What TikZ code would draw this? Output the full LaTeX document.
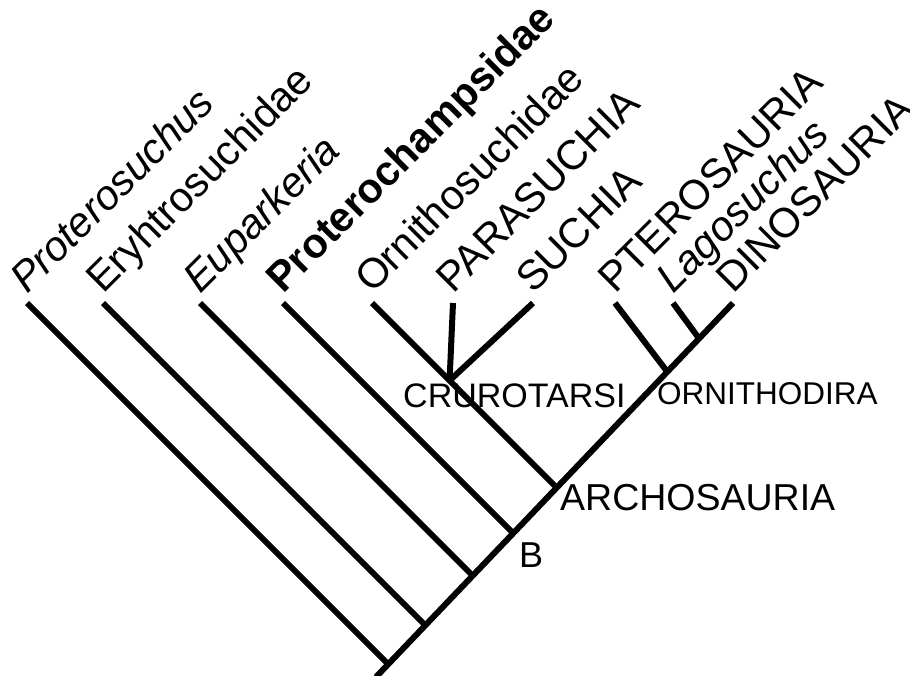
\documentclass[tikz,border=0pt]{standalone}
\usepackage{fontspec}
\setmainfont{Liberation Sans}
\usetikzlibrary{calc}
\begin{document}
\begin{tikzpicture}[x=1pt,y=-1pt,
  branch/.style={line width=6pt, line cap=butt, line join=miter},
  taxon/.style={anchor=base west, inner sep=0pt, rotate=45,
    font=\fontsize{41.5}{44}\selectfont},
  clade/.style={anchor=base west, inner sep=0pt}]
\useasboundingbox (0,0) rectangle (910,675);

% branch tips
\coordinate (tProt)  at (27,303);
\coordinate (tEry)   at (103,303);
\coordinate (tEup)   at (200,303);
\coordinate (tPch)   at (283,303);
\coordinate (tOrn)   at (372,303);
\coordinate (tPar)   at (453,303);
\coordinate (tSuc)   at (533,303);
\coordinate (tPte)   at (615,303);
\coordinate (tLag)   at (673,303);
\coordinate (tDino)  at (733,303);
\coordinate (root)   at (376,677);

% 45 degree guides for the side branches
\foreach \t in {Prot,Ery,Eup,Pch,Orn}
  \coordinate (h\t) at ($(t\t)+(420,420)$);

% internal nodes
\coordinate (nProt) at (intersection of root--tDino and tProt--hProt);
\coordinate (nEry)  at (intersection of root--tDino and tEry--hEry);
\coordinate (nEup)  at (intersection of root--tDino and tEup--hEup);
\coordinate (nB)    at (intersection of root--tDino and tPch--hPch);
\coordinate (nArch) at (intersection of root--tDino and tOrn--hOrn);
\coordinate (nCru)  at ($(tOrn)!0.42!(nArch)$);
\coordinate (nOrd)  at ($(root)!0.816!(tDino)$);
\coordinate (nDin)  at ($(root)!0.905!(tDino)$);

% trunk and branches
\draw[branch] (root) -- (tDino);
\draw[branch] (tProt) -- (nProt);
\draw[branch] (tEry) -- (nEry);
\draw[branch] (tEup) -- (nEup);
\draw[branch] (tPch) -- (nB);
\draw[branch] (tOrn) -- (nArch);
\draw[branch] (tPar) -- (nCru);
\draw[branch] (tSuc) -- (nCru);
\draw[branch] (tPte) -- (nOrd);
\draw[branch] (tLag) -- (nDin);

% taxon names
\node[taxon] (lProt) at ($(tProt)+(0,-8)$) {\itshape Proterosuchus};
\node[taxon] (lEry)  at ($(tEry)+(0,-8)$)  {Eryhtrosuchidae};
\node[taxon] (lEup)  at ($(tEup)+(0,-8)$)  {\itshape Euparkeria};
\node[taxon] (lPch)  at ($(tPch)+(0,-8)$)  {\bfseries Proterochampsidae};
\node[taxon] (lOrn)  at ($(tOrn)+(0,-8)$)  {Ornithosuchidae};
\node[taxon] (lPar)  at ($(tPar)+(0,-8)$)  {PARASUCHIA};
\node[taxon] (lSuc)  at ($(tSuc)+(0,-8)$)  {SUCHIA};
\node[taxon] (lPte)  at ($(tPte)+(0,-8)$)  {PTEROSAURIA};
\node[taxon] (lLag)  at ($(tLag)+(0,-8)$)  {\itshape Lagosuchus};
\node[taxon] (lDino) at ($(tDino)+(0,-8)$) {DINOSAURIA};

% clade names
\node[clade, font=\fontsize{34}{38}\selectfont]   (lCru)  at (403,407.3) {CRUROTARSI};
\node[clade, font=\fontsize{31.5}{35}\selectfont] (lOrd)  at (657,404)   {ORNITHODIRA};
\node[clade, font=\fontsize{37.5}{41}\selectfont] (lArch) at (560,510.7) {ARCHOSAURIA};
\node[clade, font=\fontsize{36}{40}\selectfont]   (lB)    at (519,567)   {B};
\end{tikzpicture}
\end{document}
